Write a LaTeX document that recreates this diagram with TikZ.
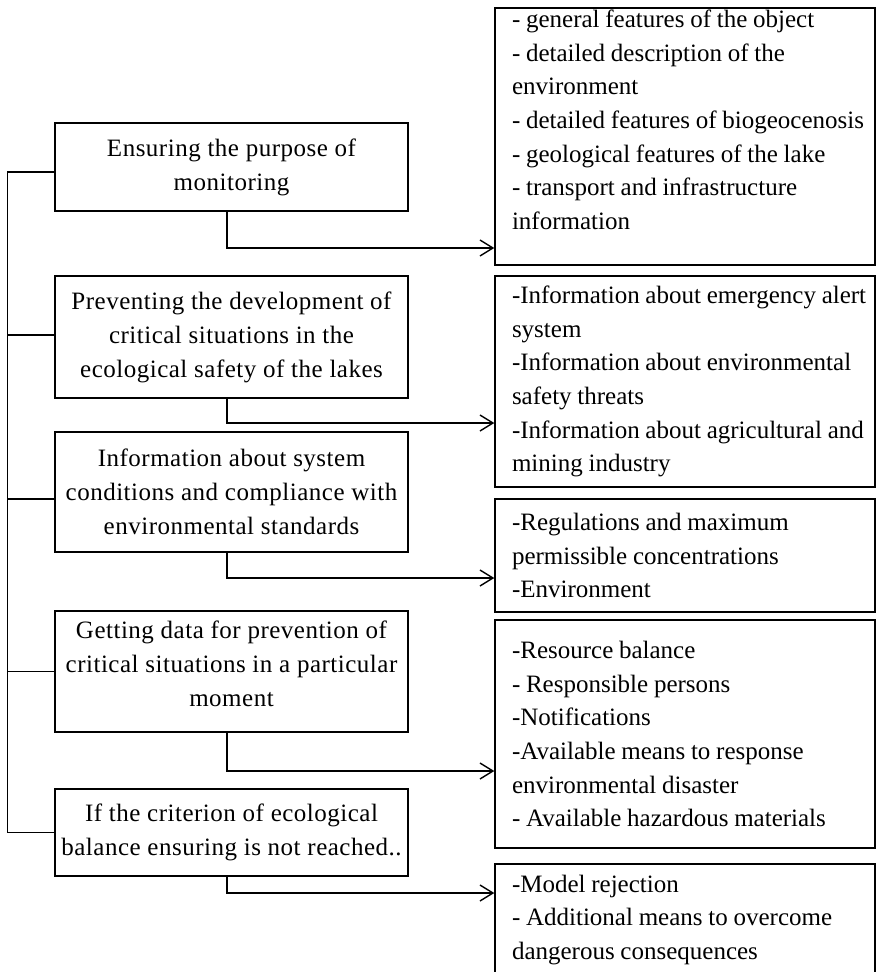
\documentclass[tikz,border=0pt]{standalone}
\usepackage{fontspec}
\setmainfont{Liberation Serif}
\newfontfamily\goalfont{Liberation Serif}[LetterSpace=2]
\newcommand\infofont{\fontsize{25}{33.7}\selectfont\spaceskip=0.23em plus 0.05em minus 0.05em\relax}
\usetikzlibrary{arrows.meta}

\begin{document}
\begin{tikzpicture}[x=1pt,y=-1pt,
    goal/.style={draw, line width=1.4pt, minimum width=353pt, align=center, font=\goalfont\fontsize{25}{34}\selectfont},
    info/.style={draw, line width=1.4pt, minimum width=380pt, text width=366pt, inner xsep=7pt, align=flush left, font=\infofont, execute at begin node={\leftskip=10pt\relax}},
    link/.style={line width=1.4pt},
    arr/.style={link, -{Straight Barb[length=13pt,width=16pt]}}
  ]
  \useasboundingbox (0,0) rectangle (876,972);
  \clip (0,0) rectangle (876,972);
  % tasks on the left
  \node[goal, minimum height=88pt] (g1) at (231.5,167) {Ensuring the purpose of\\monitoring};
  \node[goal, minimum height=122pt] (g2) at (231.5,337) {Preventing the development of\\critical situations in the\\ecological safety of the lakes};
  \node[goal, minimum height=120pt] (g3) at (231.5,492) {Information about system\\conditions and compliance with\\environmental standards};
  \node[goal, minimum height=121pt] (g4) at (231.5,671.5) {Getting data for prevention of\\critical situations in a particular\\moment\\[-18pt]\mbox{}};
  \node[goal, minimum height=87pt] (g5) at (231.5,832.5) {If the criterion of ecological\\balance ensuring is not reached..};
  % information on the right
  \node[info, minimum height=257pt, inner ysep=1pt] (i1) at (685,136.5) {- general features of the object\\- detailed description of the\\environment\\- detailed features of biogeocenosis\\- geological features of the lake\\- transport and infrastructure\\information\\\mbox{}};
  \node[info, minimum height=211pt] (i2) at (685,381.5) {-Information about emergency alert\\system\\-Information about environmental\\safety threats\\-Information about agricultural and\\mining industry};
  \node[info, minimum height=113pt] (i3) at (685,555.5) {-Regulations and maximum\\permissible concentrations\\-Environment};
  \node[info, minimum height=228pt] (i4) at (685,734) {-Resource balance\\- Responsible persons\\-Notifications\\-Available means to response\\environmental disaster\\- Available hazardous materials};
  \node[info, minimum height=112pt] (i5) at (685,920) {-Model rejection\\- Additional means to overcome\\dangerous consequences};
  % bus on the left
  \draw[link] ([yshift=-5pt]g1.west) -- ++(-47,0) |- (g5.west);
  \foreach \n/\s in {2/2pt,3/-7pt,4/0pt}
    \draw[link] ([yshift=\s]g\n.west) -- ++(-47,0);
  % arrows
  \foreach \n/\y in {1/248,2/423,3/578,4/771,5/893}
    \draw[arr] ([xshift=-4.5pt]g\n.south) |- (i\n.west |- 0,\y);
\end{tikzpicture}
\end{document}
